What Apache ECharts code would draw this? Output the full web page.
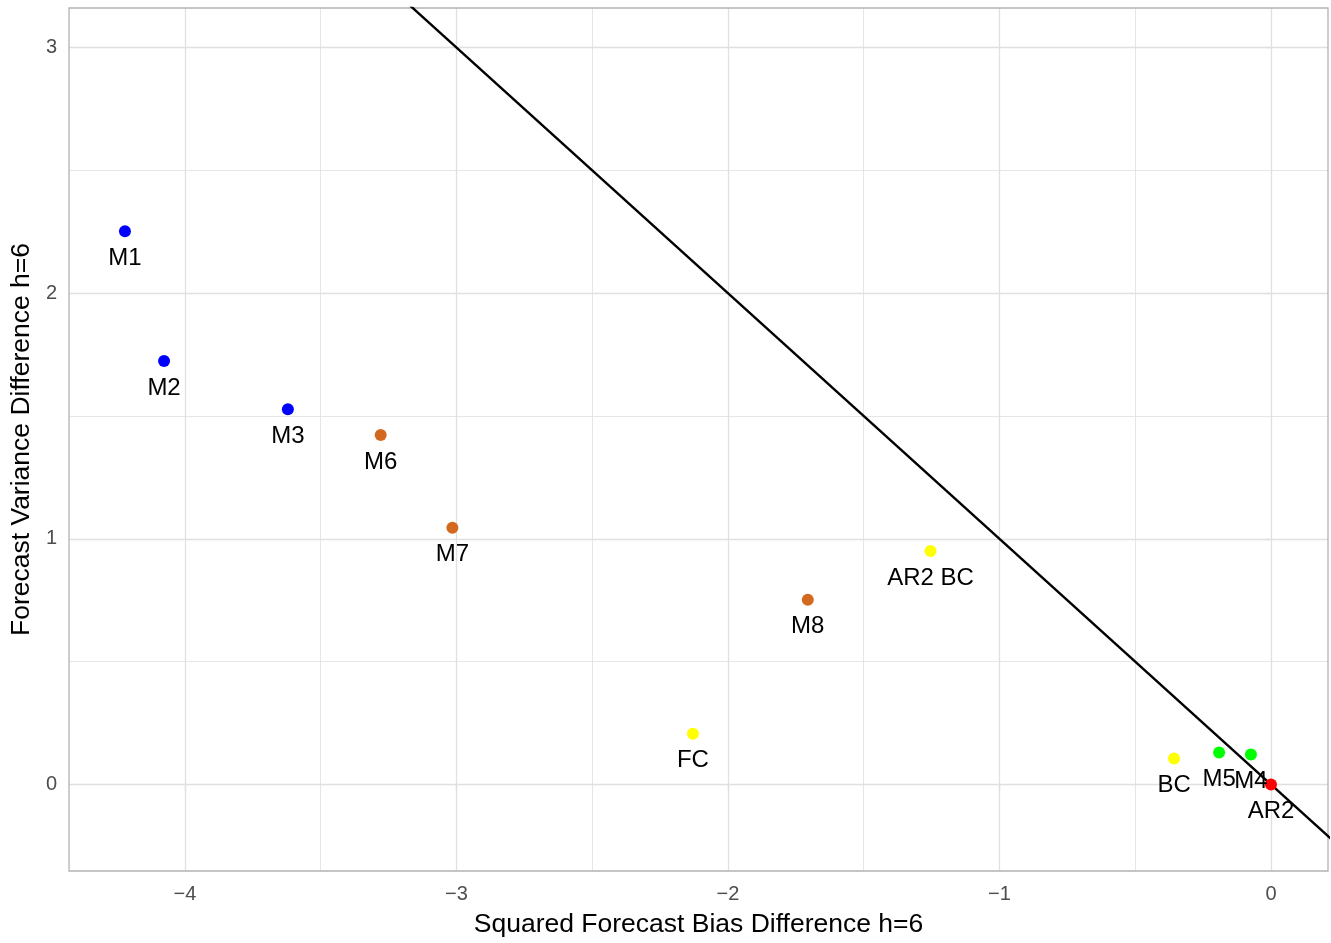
<!DOCTYPE html>
<html>
<head>
<meta charset="utf-8">
<script src="https://cdn.jsdelivr.net/npm/echarts@6/dist/echarts.min.js"></script>
<style>
html,body{margin:0;padding:0;background:#fff;}
#chart{width:1331px;height:943px;}
</style>
</head>
<body>
<div id="chart"></div>
<script>
// ---- data ----
const modelNames = ['M1','M2','M3','M6','M7','M8','AR2 BC','FC','BC','M5','M4','AR2'];
const biasDiff   = [-4.221,-4.077,-3.621,-3.279,-3.015,-1.706,-1.254,-2.129,-0.357,-0.191,-0.074,0];
const varDiff    = [2.252,1.724,1.528,1.423,1.045,0.752,0.951,0.207,0.106,0.130,0.122,0];
const groups     = ['g1','g1','g1','g2','g2','g2','g3','g3','g3','g4','g4','g5'];
const refLineX   = [-3.5, 0.5];
const refLineY   = [3.5, -0.5];
const xMajorTicks = [-4,-3,-2,-1,0];
const xMinorTicks = [-3.5,-2.5,-1.5,-0.5];
const yMajorTicks = [0,1,2,3];
const yMinorTicks = [0.5,1.5,2.5];
const xRange = [-4.427, 0.21];
const yRange = [-0.352, 3.161];

// ---- styles ----
const groupColor = {g1:'#0000FF', g2:'#D2691E', g3:'#FFFF00', g4:'#00FF00', g5:'#FF0000'};
const FONT = '"Liberation Sans", Arial, sans-serif';
const minusFmt = v => String(v).replace('-', '\u2212');

const chart = echarts.init(document.getElementById('chart'), null, {renderer:'canvas'});

const points = modelNames.map((n,i)=>({
  value:[biasDiff[i], varDiff[i]],
  name:n,
  itemStyle:{color:groupColor[groups[i]], opacity:1}
}));

const gridLine = (axis, v, w) => ({[axis]: v, lineStyle:{color:'#E0E0E0', width:w, type:'solid'}});

const option = {
  animation:false,
  backgroundColor:'#fff',
  grid:{left:68, right:3, top:8, bottom:71, show:true, borderColor:'#B3B3B3', borderWidth:1.3, backgroundColor:'transparent', z:2},
  xAxis:{
    type:'value', min:xRange[0], max:xRange[1],
    name:'Squared Forecast Bias Difference h=6', nameLocation:'middle', nameGap:40,
    nameTextStyle:{fontFamily:FONT, fontSize:26.5, color:'#000'},
    axisLine:{show:false},
    splitLine:{show:false},
    axisTick:{show:true, inside:false, length:6, lineStyle:{color:'#B3B3B3', width:1.2}, customValues:xMajorTicks},
    axisLabel:{customValues:xMajorTicks, formatter:minusFmt, fontFamily:FONT, fontSize:20, color:'#4D4D4D', margin:13}
  },
  yAxis:{
    type:'value', min:yRange[0], max:yRange[1],
    name:'Forecast Variance Difference h=6', nameLocation:'middle', nameGap:33,
    nameTextStyle:{fontFamily:FONT, fontSize:26.5, color:'#000'},
    axisLine:{show:false},
    splitLine:{show:false},
    axisTick:{show:true, inside:false, length:6, lineStyle:{color:'#B3B3B3', width:1.2}, customValues:yMajorTicks},
    axisLabel:{customValues:yMajorTicks, formatter:minusFmt, fontFamily:FONT, fontSize:20, color:'#4D4D4D', margin:12}
  },
  series:[
    {
      type:'scatter', data:[], silent:true, z:1,
      markLine:{
        z:1, silent:true, symbol:['none','none'], label:{show:false}, animation:false,
        emphasis:{disabled:true},
        data:[
          ...xMinorTicks.map(v=>gridLine('xAxis', v, 0.8)),
          ...yMinorTicks.map(v=>gridLine('yAxis', v, 0.8)),
          ...xMajorTicks.map(v=>gridLine('xAxis', v, 1.3)),
          ...yMajorTicks.map(v=>gridLine('yAxis', v, 1.3))
        ]
      }
    },
    {
      type:'line', data:refLineX.map((x,i)=>[x, refLineY[i]]), symbol:'none', clip:true, z:6,
      lineStyle:{color:'#000', width:2.4}, silent:true
    },
    {
      type:'scatter', data:points, symbolSize:12, z:7,
      itemStyle:{opacity:1},
      label:{show:true, position:'inside', offset:[0,27], formatter:p=>p.name,
        fontFamily:FONT, fontSize:24, color:'#000', textBorderWidth:0, opacity:1}
    }
  ]
};
chart.setOption(option);
</script>
</body>
</html>
